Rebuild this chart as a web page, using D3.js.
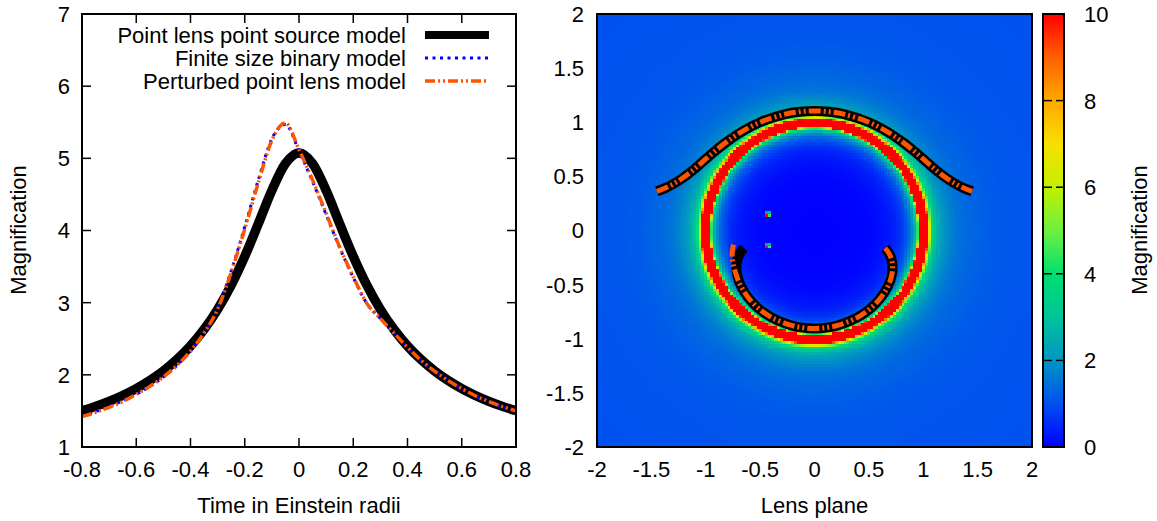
<!DOCTYPE html>
<html><head><meta charset="utf-8">
<script src="https://cdn.jsdelivr.net/npm/d3@7"></script>
<style>
body{margin:0;background:#fff}
svg{display:block}
text{font-family:"Liberation Sans",Arial,Helvetica,sans-serif;fill:#000}
</style>
</head><body>
<svg id="chart" width="1157" height="521"></svg>
<script>
// ---------- Left panel data ----------
const timeT = [-0.8,-0.75,-0.7,-0.65,-0.6,-0.55,-0.5,-0.45,-0.4,-0.35,-0.3,-0.25,-0.2,-0.15,-0.1,-0.05,0,
               0.05,0.1,0.15,0.2,0.25,0.3,0.35,0.4,0.45,0.5,0.55,0.6,0.65,0.7,0.75,0.8];
const psplMag = [1.502,1.563,1.633,1.714,1.809,1.921,2.053,2.211,2.400,2.629,2.907,3.242,3.641,4.093,4.556,4.928,5.075,
                 4.928,4.556,4.093,3.641,3.242,2.907,2.629,2.400,2.211,2.053,1.921,1.809,1.714,1.633,1.563,1.502];
const binaryMag = [1.43,1.49,1.56,1.64,1.73,1.84,1.97,2.13,2.33,2.58,2.92,3.44,4.05,4.70,5.27,5.47,5.10,
                   4.68,4.22,3.76,3.35,2.99,2.78,2.58,2.38,2.20,2.05,1.92,1.81,1.71,1.63,1.56,1.50];
const perturbedMag = [1.42,1.48,1.55,1.63,1.73,1.84,1.97,2.13,2.33,2.58,2.91,3.42,4.02,4.66,5.25,5.49,5.12,
                      4.70,4.24,3.77,3.36,2.99,2.78,2.58,2.38,2.20,2.05,1.92,1.81,1.71,1.63,1.56,1.50];
const seriesNames = ["Point lens point source model","Finite size binary model","Perturbed point lens model"];
const leftXTicks = [-0.8,-0.6,-0.4,-0.2,0,0.2,0.4,0.6,0.8];
const leftXTickLabels = ["-0.8","-0.6","-0.4","-0.2","0","0.2","0.4","0.6","0.8"];
const leftYTicks = [1,2,3,4,5,6,7];
const leftYTickLabels = ["1","2","3","4","5","6","7"];

// ---------- Right panel data ----------
const planeTicks = [-2,-1.5,-1,-0.5,0,0.5,1,1.5,2];
const planeTickLabels = ["-2","-1.5","-1","-0.5","0","0.5","1","1.5","2"];
// radial magnification profile
const profileR   = [0,0.3,0.5,0.6,0.7,0.75,0.8,0.85,0.88,0.9,0.92,0.94,0.95,0.957,0.962,1.038,1.048,1.062,1.08,1.1,1.15,1.2,1.3,1.4,1.6,1.8,2.0,3.0];
const profileMag = [0,0.01,0.07,0.15,0.32,0.46,0.69,1.09,1.5,1.9,2.5,3.6,4.6,6.8,10,10,7.5,5.2,3.9,3.15,2.35,1.93,1.54,1.35,1.18,1.1,1.07,1.01];
const hotSpotX = [-0.45,-0.45];
const hotSpotY = [0.15,-0.16];
const spotPattern = [[0,0,10],[1,0,4.5],[0,1,2.2],[1,1,2.8]];
// image tracks (major image arc and minor image arc)
const upperArcX = [-1.449,-1.373,-1.295,-1.212,-1.117,-1.061,-0.996,-0.916,-0.814,-0.680,-0.500,-0.269,-0.137,0,
                   0.137,0.269,0.500,0.680,0.814,0.916,0.996,1.061,1.117,1.212,1.295,1.373,1.449];
const upperArcY = [0.362,0.392,0.432,0.485,0.558,0.606,0.664,0.733,0.814,0.906,1.000,1.075,1.097,1.105,
                   1.097,1.075,1.000,0.906,0.814,0.733,0.664,0.606,0.558,0.485,0.432,0.392,0.362];
const lowerArcX = [0.649,0.673,0.695,0.712,0.717,0.711,0.696,0.666,0.614,0.530,0.400,0.219,0.112,0,
                   -0.112,-0.219,-0.400,-0.530,-0.614,-0.666,-0.696,-0.711,-0.717,-0.712,-0.695,-0.673,-0.649];
const lowerArcY = [-0.162,-0.192,-0.232,-0.285,-0.358,-0.406,-0.464,-0.533,-0.614,-0.706,-0.800,-0.875,-0.897,-0.905,
                   -0.897,-0.875,-0.800,-0.706,-0.614,-0.533,-0.464,-0.406,-0.358,-0.285,-0.232,-0.192,-0.162];
const lowerArcPertX = [0.649,0.673,0.695,0.712,0.717,0.711,0.696,0.666,0.614,0.530,0.400,0.219,0.112,0,
                   -0.112,-0.219,-0.400,-0.530,-0.614,-0.666,-0.700,-0.720,-0.735,-0.752,-0.758,-0.752,-0.740];
const lowerArcPertY = [-0.162,-0.192,-0.232,-0.285,-0.358,-0.406,-0.464,-0.533,-0.614,-0.706,-0.800,-0.875,-0.897,-0.905,
                   -0.897,-0.875,-0.800,-0.706,-0.614,-0.533,-0.466,-0.410,-0.362,-0.290,-0.225,-0.165,-0.110];

// ---------- Colour bar data ----------
const cbStops  = [0,1,2,3,4,5,6,7,8,9,10];
const cbColors = ["#0000ff","#0050f0","#0096c2","#00c49a","#00e070","#6ef040","#c2f000","#f8e000","#ffa800","#ff6000","#ff0000"];
const cbTicks = [0,2,4,6,8,10];
const cbTickLabels = ["0","2","4","6","8","10"];

// ---------- Drawing ----------
const svg = d3.select("#chart");
const FS = 22;
const colors = {black:"#000000", blue:"#0000ff", orange:"#ff5500"};
const orangeDash = "10,3,2,3,2,3";

// Left panel
const xL = d3.scaleLinear().domain([-0.8,0.8]).range([82,516]);
const yL = d3.scaleLinear().domain([1,7]).range([447,14]);
const gL = svg.append("g");
gL.append("clipPath").attr("id","clipL").append("rect")
  .attr("x",82).attr("y",14).attr("width",434).attr("height",433);

const line = d3.line().x((d,i)=>xL(timeT[i])).y(d=>yL(d)).curve(d3.curveMonotoneX);
const curves = gL.append("g").attr("clip-path","url(#clipL)");
curves.append("path").attr("d",line(psplMag)).attr("fill","none")
  .attr("stroke",colors.black).attr("stroke-width",9.5);
curves.append("path").attr("d",line(binaryMag)).attr("fill","none")
  .attr("stroke",colors.blue).attr("stroke-width",3).attr("stroke-dasharray","3,4.5");
curves.append("path").attr("d",line(perturbedMag)).attr("fill","none")
  .attr("stroke",colors.orange).attr("stroke-width",3.5).attr("stroke-dasharray",orangeDash);

// ticks (inward, mirrored)
const tk = 9;
leftXTicks.forEach(v=>{
  gL.append("line").attr("x1",xL(v)).attr("x2",xL(v)).attr("y1",447).attr("y2",447-tk).attr("stroke","#000").attr("stroke-width",1.5);
  gL.append("line").attr("x1",xL(v)).attr("x2",xL(v)).attr("y1",14).attr("y2",14+tk).attr("stroke","#000").attr("stroke-width",1.5);
});
leftYTicks.forEach(v=>{
  gL.append("line").attr("x1",82).attr("x2",82+tk).attr("y1",yL(v)).attr("y2",yL(v)).attr("stroke","#000").attr("stroke-width",1.5);
  gL.append("line").attr("x1",516).attr("x2",516-tk).attr("y1",yL(v)).attr("y2",yL(v)).attr("stroke","#000").attr("stroke-width",1.5);
});
gL.append("rect").attr("x",82).attr("y",14).attr("width",434).attr("height",433)
  .attr("fill","none").attr("stroke","#000").attr("stroke-width",2);

gL.selectAll(".xl").data(leftXTicks).join("text").attr("x",d=>xL(d)).attr("y",477)
  .attr("text-anchor","middle").attr("font-size",FS).text((d,i)=>leftXTickLabels[i]);
gL.selectAll(".yl").data(leftYTicks).join("text").attr("x",70).attr("y",d=>yL(d)).attr("dy","0.36em")
  .attr("text-anchor","end").attr("font-size",FS).text((d,i)=>leftYTickLabels[i]);
gL.append("text").attr("x",299).attr("y",513).attr("text-anchor","middle").attr("font-size",FS).text("Time in Einstein radii");
gL.append("text").attr("transform","translate(26,230) rotate(-90)").attr("text-anchor","middle").attr("font-size",FS).text("Magnification");

// legend
const legY = [35,58,81];
const legStyles = [
  {stroke:colors.black, w:8, dash:null},
  {stroke:colors.blue, w:3, dash:"3,4.5"},
  {stroke:colors.orange, w:3.5, dash:orangeDash}
];
seriesNames.forEach((name,i)=>{
  gL.append("text").attr("x",406).attr("y",legY[i]).attr("dy","0.36em").attr("text-anchor","end")
    .attr("font-size",FS).text(name);
  const l = gL.append("line").attr("x1",425).attr("x2",489).attr("y1",legY[i]).attr("y2",legY[i])
    .attr("stroke",legStyles[i].stroke).attr("stroke-width",legStyles[i].w);
  if (legStyles[i].dash) l.attr("stroke-dasharray",legStyles[i].dash);
});

// Right panel heatmap
const xR = d3.scaleLinear().domain([-2,2]).range([597,1032]);
const yR = d3.scaleLinear().domain([-2,2]).range([447,14]);
const color = d3.scaleLinear().domain(cbStops).range(cbColors).clamp(true);
const magAt = d3.scaleLinear().domain(profileR).range(profileMag).clamp(true);
const N = 150, dc = 4/N;
const cells = [];
for (let j=0;j<N;j++) for (let i=0;i<N;i++){
  const x=-2+(i+0.5)*dc, y=-2+(j+0.5)*dc;
  cells.push({x,y,m:magAt(Math.hypot(x,y))});
}
hotSpotX.forEach((sx,k)=>{
  const i0=Math.floor((sx+2)/dc), j0=Math.floor((hotSpotY[k]+2)/dc);
  spotPattern.forEach(([di,dj,v])=>{ const c=cells[(j0+dj)*N+(i0+di)]; if(c) c.m=v; });
});
const gR = svg.append("g");
const cw = xR(dc)-xR(0), ch = yR(0)-yR(dc);
gR.append("g").attr("shape-rendering","crispEdges").selectAll("rect").data(cells).join("rect")
  .attr("x",d=>xR(d.x-dc/2)).attr("y",d=>yR(d.y+dc/2))
  .attr("width",cw+0.6).attr("height",ch+0.6).attr("fill",d=>color(d.m));

// image tracks
const arcLine = (xs,ys)=>d3.line().x((d,i)=>xR(xs[i])).y((d,i)=>yR(ys[i])).curve(d3.curveCatmullRom)(xs);
[[upperArcX,upperArcY],[lowerArcX,lowerArcY]].forEach(([xs,ys])=>{
  gR.append("path").attr("d",arcLine(xs,ys)).attr("fill","none").attr("stroke","#000").attr("stroke-width",10);
});
[[upperArcX,upperArcY],[lowerArcPertX,lowerArcPertY]].forEach(([xs,ys])=>{
  gR.append("path").attr("d",arcLine(xs,ys)).attr("fill","none").attr("stroke",colors.orange)
    .attr("stroke-width",5).attr("stroke-dasharray","12,3,2,3,2,3");
});

gR.append("rect").attr("x",597).attr("y",14).attr("width",435).attr("height",433)
  .attr("fill","none").attr("stroke","#000").attr("stroke-width",2);
gR.selectAll(".xr").data(planeTicks).join("text").attr("x",d=>xR(d)).attr("y",477)
  .attr("text-anchor","middle").attr("font-size",FS).text((d,i)=>planeTickLabels[i]);
gR.selectAll(".yr").data(planeTicks).join("text").attr("x",584).attr("y",d=>yR(d)).attr("dy","0.36em")
  .attr("text-anchor","end").attr("font-size",FS).text((d,i)=>planeTickLabels[i]);
gR.append("text").attr("x",814.5).attr("y",513).attr("text-anchor","middle").attr("font-size",FS).text("Lens plane");

// Colour bar
const yC = d3.scaleLinear().domain([0,10]).range([447,14]);
const defs = svg.append("defs");
const grad = defs.append("linearGradient").attr("id","cbgrad").attr("x1","0").attr("y1","1").attr("x2","0").attr("y2","0");
cbStops.forEach((s,i)=>grad.append("stop").attr("offset",(s/10)).attr("stop-color",cbColors[i]));
const gC = svg.append("g");
gC.append("rect").attr("x",1043).attr("y",14).attr("width",21).attr("height",433)
  .attr("fill","url(#cbgrad)").attr("stroke","#000").attr("stroke-width",2);
cbTicks.forEach(v=>{
  gC.append("line").attr("x1",1043).attr("x2",1052).attr("y1",yC(v)).attr("y2",yC(v)).attr("stroke","#000").attr("stroke-width",1.5);
  gC.append("line").attr("x1",1064).attr("x2",1056).attr("y1",yC(v)).attr("y2",yC(v)).attr("stroke","#000").attr("stroke-width",1.5);
});
gC.selectAll(".cl").data(cbTicks).join("text").attr("x",1084).attr("y",d=>yC(d)).attr("dy","0.36em")
  .attr("font-size",FS).text((d,i)=>cbTickLabels[i]);
gC.append("text").attr("transform","translate(1147,230) rotate(-90)").attr("text-anchor","middle").attr("font-size",FS).text("Magnification");
</script>
</body></html>
